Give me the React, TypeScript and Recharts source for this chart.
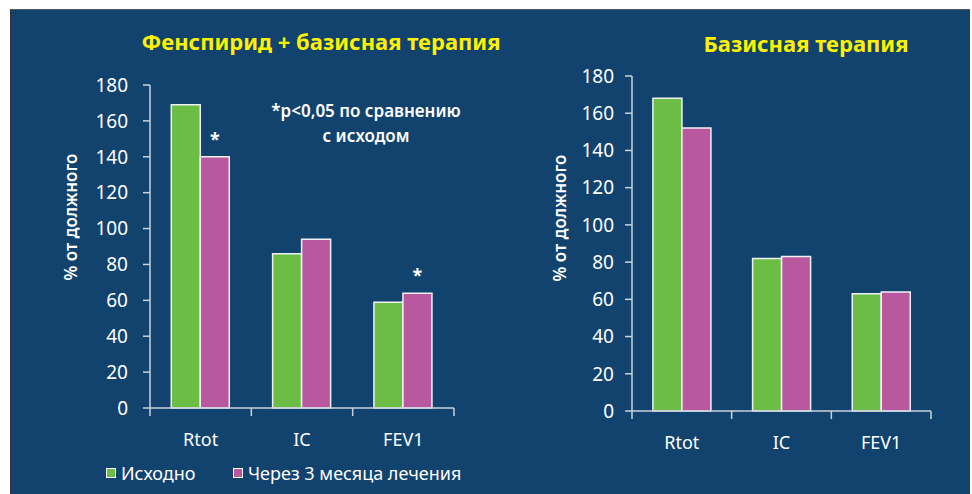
import { Bar, BarChart, LabelList, XAxis, YAxis } from "recharts";

const categories = ["Rtot", "IC", "FEV1"];
const yTicks = [0, 20, 40, 60, 80, 100, 120, 140, 160, 180];
const seriesNames = ["Исходно", "Через 3 месяца лечения"];

// Фенспирид + базисная терапия
const fenBaseline = [169, 86, 59];
const fenAfter = [140, 94, 64];
const fenMarks = ["*", "", "*"];

// Базисная терапия
const basicBaseline = [168, 82, 63];
const basicAfter = [152, 83, 64];
const basicMarks = ["", "", ""];

const BG = "#12436f";
const GREEN = "#6bbd45";
const PINK = "#b9589f";
const AXIS = "#c9d2dc";
const YELLOW = "#fff200";
const FONT = '"Noto Sans", sans-serif';
const TICK_LEN = 8;

const buildRows = (before: number[], after: number[], marks: string[]) =>
  categories.map((name, i) => ({ name, before: before[i], after: after[i], mark: marks[i] }));

const makeCategoryTick = (bandWidth: number) => (props: any) => {
  const { x, y, payload, index } = props;
  const axisY = y - TICK_LEN;
  const left = x - bandWidth / 2;
  const right = x + bandWidth / 2;
  return (
    <g>
      <line x1={left} x2={left} y1={axisY} y2={axisY + TICK_LEN} stroke={AXIS} strokeWidth={1.5} />
      {index === categories.length - 1 && (
        <line x1={right} x2={right} y1={axisY} y2={axisY + TICK_LEN} stroke={AXIS} strokeWidth={1.5} />
      )}
      <text x={x} y={axisY + 38} textAnchor="middle" fill="#fff" fontSize={18} fontFamily={FONT}>
        {payload.value}
      </text>
    </g>
  );
};

const StarLabel = (props: any) => {
  const { x, y, width, value } = props;
  if (!value) return null;
  return (
    <text x={x + width / 2} y={y - 11} textAnchor="middle" fill="#fff" fontSize={18} fontWeight="bold" fontFamily={FONT}>
      {value}
    </text>
  );
};

interface PanelProps {
  rows: { name: string; before: number; after: number; mark: string }[];
  width: number;
  margin: { top: number; right: number; bottom: number; left: number };
  yAxisWidth: number;
  tickMargin: number;
  xAxisHeight: number;
}

const Panel = ({ rows, width, margin, yAxisWidth, tickMargin, xAxisHeight }: PanelProps) => {
  const plotWidth = width - margin.left - margin.right - yAxisWidth;
  return (
    <BarChart width={width} height={494} data={rows} margin={margin} barGap={0} barCategoryGap="21%">
      <XAxis
        dataKey="name"
        height={xAxisHeight}
        axisLine={{ stroke: AXIS, strokeWidth: 1.5 }}
        tickLine={false}
        tickSize={TICK_LEN}
        tickMargin={0}
        interval={0}
        tick={makeCategoryTick(plotWidth / categories.length)}
      />
      <YAxis
        width={yAxisWidth}
        domain={[0, 180]}
        ticks={yTicks}
        interval={0}
        axisLine={{ stroke: AXIS, strokeWidth: 1.5 }}
        tickLine={{ stroke: AXIS, strokeWidth: 1.5 }}
        tickSize={7}
        tickMargin={tickMargin}
        tick={{ fill: "#fff", fontSize: 19, fontFamily: FONT }}
      />
      <Bar dataKey="before" name={seriesNames[0]} fill={GREEN} stroke="#eef2f4" strokeWidth={1.5} isAnimationActive={false} />
      <Bar dataKey="after" name={seriesNames[1]} fill={PINK} stroke="#eef2f4" strokeWidth={1.5} isAnimationActive={false}>
        <LabelList dataKey="mark" content={StarLabel} />
      </Bar>
    </BarChart>
  );
};

const abs = (left: number, top: number): React.CSSProperties => ({ position: "absolute", left, top });

const YLabel = ({ cx, cy }: { cx: number; cy: number }) => (
  <div
    style={{
      ...abs(cx - 80, cy - 12),
      width: 160,
      height: 24,
      lineHeight: "24px",
      textAlign: "center",
      color: "#fff",
      fontSize: 17,
      fontWeight: 600,
      transform: "rotate(-90deg)",
      whiteSpace: "nowrap",
    }}
  >
    % от должного
  </div>
);

const LegendItem = ({ color, label, left }: { color: string; label: string; left: number }) => (
  <div style={{ ...abs(left, 461), display: "flex", alignItems: "center", color: "#fff", fontSize: 18 }}>
    <span style={{ width: 8, height: 8, background: color, border: "1.5px solid #fff", marginRight: 5 }} />
    <span>{label}</span>
  </div>
);

export default function App() {
  return (
    <div style={{ position: "absolute", left: 0, top: 0, width: 972, height: 494, background: "#fff", overflow: "hidden", fontFamily: FONT }}>
      <div style={{ ...abs(10, 9), width: 960, height: 485, background: BG, borderTop: "1px solid #555", borderLeft: "1px solid #333", boxSizing: "border-box" }} />

      <div style={abs(0, 0)}>
        <Panel
          rows={buildRows(fenBaseline, fenAfter, fenMarks)}
          width={480}
          margin={{ top: 85, right: 26, bottom: 46, left: 0 }}
          yAxisWidth={150}
          tickMargin={15}
          xAxisHeight={40}
        />
      </div>
      <div style={abs(480, 0)}>
        <Panel
          rows={buildRows(basicBaseline, basicAfter, basicMarks)}
          width={492}
          margin={{ top: 76, right: 41, bottom: 43, left: 0 }}
          yAxisWidth={152}
          tickMargin={11}
          xAxisHeight={40}
        />
      </div>

      <div style={{ ...abs(121, 26), width: 400, textAlign: "center", color: YELLOW, fontSize: 22, fontWeight: 700 }}>
        Фенспирид + базисная терапия
      </div>
      <div style={{ ...abs(656, 28), width: 300, textAlign: "center", color: YELLOW, fontSize: 22, fontWeight: 700 }}>
        Базисная терапия
      </div>

      <div style={{ ...abs(236, 98), width: 260, textAlign: "center", color: "#fff", fontSize: 17, fontWeight: 600, lineHeight: "25px" }}>
        *p&lt;0,05 по сравнению
        <br />с исходом
      </div>

      <YLabel cx={71} cy={217} />
      <YLabel cx={560} cy={218} />

      <LegendItem color={GREEN} label={seriesNames[0]} left={106} />
      <LegendItem color={PINK} label={seriesNames[1]} left={233} />
    </div>
  );
}
